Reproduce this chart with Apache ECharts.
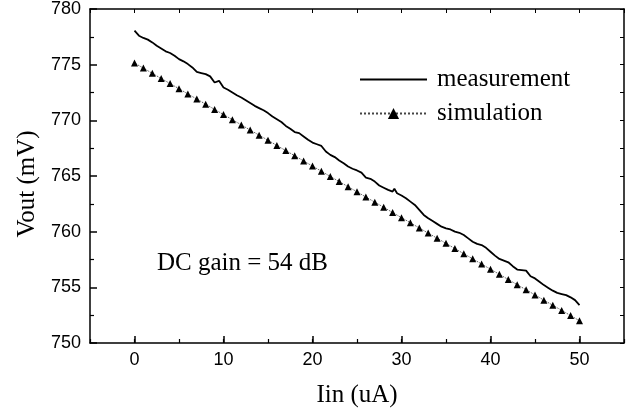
<!DOCTYPE html>
<html>
<head>
<meta charset="utf-8">
<script src="https://cdn.jsdelivr.net/npm/echarts@6/dist/echarts.min.js"></script>
<style>html,body{margin:0;padding:0;background:#fff}#c{width:634px;height:413px}</style>
</head>
<body>
<div id="c"></div>
<script>
// ---- data ----
var measX = [0,0.5,1,1.5,2,2.5,3,3.5,4,4.5,5,5.5,6,6.5,7,7.5,8,8.5,9,9.5,10,10.5,11,11.5,12,12.5,13,13.5,14,14.5,15,15.5,16,16.5,17,17.5,18,18.5,19,19.5,20,20.5,21,21.5,22,22.5,23,23.5,24,24.5,25,25.5,26,26.5,27,27.5,28,28.5,29,29.2,29.5,30,30.5,31,31.5,32,32.5,33,33.5,34,34.5,35,35.5,36,36.5,37,37.5,38,38.5,39,39.5,40,40.5,41,41.5,42,42.5,43,43.5,44,44.5,45,45.5,46,46.5,47,47.5,48,48.5,49,49.5,50];
var measY = [778.05,777.6,777.4,777.25,777.0,776.7,776.45,776.2,776.05,775.8,775.5,775.3,775.05,774.75,774.35,774.25,774.15,773.95,773.4,773.55,772.95,772.75,772.5,772.25,772.05,771.8,771.55,771.3,771.1,770.9,770.65,770.35,770.1,769.85,769.5,769.25,768.95,768.85,768.55,768.25,768.0,767.85,767.7,767.2,766.9,766.7,766.4,766.15,765.85,765.65,765.5,765.3,764.85,764.75,764.5,764.15,763.95,763.75,763.6,763.85,763.45,763.25,763.0,762.7,762.4,761.95,761.5,761.2,760.95,760.7,760.45,760.3,760.2,760.0,759.9,759.7,759.4,759.1,758.9,758.8,758.55,758.2,757.85,757.55,757.4,757.25,756.9,756.6,756.55,756.5,756.0,755.8,755.5,755.2,754.95,754.7,754.5,754.4,754.3,754.1,753.85,753.4];
var simX = [0,1,2,3,4,5,6,7,8,9,10,11,12,13,14,15,16,17,18,19,20,21,22,23,24,25,26,27,28,29,30,31,32,33,34,35,36,37,38,39,40,41,42,43,44,45,46,47,48,49,50];
var simY = [775.15,774.69,774.22,773.76,773.30,772.84,772.37,771.91,771.45,770.98,770.52,770.06,769.59,769.13,768.67,768.21,767.74,767.28,766.82,766.35,765.89,765.43,764.96,764.50,764.04,763.58,763.11,762.65,762.19,761.72,761.26,760.80,760.33,759.87,759.41,758.95,758.48,758.02,757.56,757.09,756.63,756.17,755.70,755.24,754.78,754.32,753.85,753.39,752.93,752.46,752.00];
var xTickLabels = [0,10,20,30,40,50];
var seriesNames = ['measurement','simulation'];
var xTitle = 'Iin (uA)';
var yTitle = 'Vout (mV)';
var note = 'DC gain = 54 dB';

function pairs(xs, ys){ var o=[]; for (var i=0;i<xs.length;i++) o.push([xs[i], ys[i]]); return o; }

var serif = '"Liberation Serif","Times New Roman",serif';
var sans = '"Liberation Sans",Arial,sans-serif';
var axLine = {show:true, onZero:false, lineStyle:{color:'#000', width:1.5}};

var chart = echarts.init(document.getElementById('c'), null, {renderer:'canvas'});
chart.setOption({
  animation:false,
  backgroundColor:'#fff',
  grid:{left:90, right:10, top:9, bottom:68, containLabel:false},
  legend:{
    orient:'vertical', left:354, top:62,
    itemWidth:67, itemHeight:14, itemGap:9,
    textStyle:{fontFamily:serif, fontSize:25, color:'#000', lineHeight:25, padding:[0,0,0,5]},
    data:[{name:seriesNames[0], itemStyle:{opacity:0}},{name:seriesNames[1]}]
  },
  xAxis:[
    {type:'value', position:'bottom', min:-5, max:55, interval:5,
     axisLine:axLine,
     axisTick:{show:true, inside:true, length:7, customValues:xTickLabels, lineStyle:{color:'#000', width:1.5}},
     axisLabel:{show:true, customValues:xTickLabels, fontFamily:sans, fontSize:18, color:'#000', margin:8},
     splitLine:{show:false},
     name:xTitle, nameLocation:'middle', nameGap:40,
     nameTextStyle:{fontFamily:serif, fontSize:25, color:'#000'}},
    {type:'value', position:'bottom', min:-5, max:55, interval:5,
     axisLine:{show:false, onZero:false},
     axisTick:{show:true, inside:true, length:4, lineStyle:{color:'#000', width:1.2}},
     axisLabel:{show:false}, splitLine:{show:false}},
    {type:'value', position:'top', min:-5, max:55, interval:5,
     axisLine:axLine,
     axisTick:{show:true, inside:true, length:4, lineStyle:{color:'#000', width:1}},
     axisLabel:{show:false}, splitLine:{show:false}}
  ],
  yAxis:[
    {type:'value', position:'left', min:750, max:780, interval:5,
     axisLine:axLine,
     axisTick:{show:true, inside:true, length:7, lineStyle:{color:'#000', width:1.5}},
     minorTick:{show:true, splitNumber:2, length:4, lineStyle:{color:'#000', width:1.2}},
     axisLabel:{fontFamily:sans, fontSize:18, color:'#000', margin:9},
     splitLine:{show:false},
     name:yTitle, nameLocation:'middle', nameGap:50, nameRotate:90,
     nameTextStyle:{fontFamily:serif, fontSize:25, color:'#000', padding:[0,16,0,0]}},
    {type:'value', position:'right', min:750, max:780, interval:2.5,
     axisLine:axLine,
     axisTick:{show:true, inside:true, length:4, lineStyle:{color:'#000', width:1}},
     axisLabel:{show:false}, splitLine:{show:false}}
  ],
  series:[
    {name:seriesNames[0], type:'line', xAxisIndex:0, yAxisIndex:0,
     data:pairs(measX, measY), symbol:'none',
     lineStyle:{color:'#000', width:1.8}, itemStyle:{color:'#000'}},
    {name:seriesNames[1], type:'line', xAxisIndex:0, yAxisIndex:0,
     data:pairs(simX, simY), symbol:'triangle', symbolSize:7, showSymbol:true,
     lineStyle:{color:'#444', width:1, type:'dotted'}, itemStyle:{color:'#000'}}
  ],
  graphic:[
    {type:'text', left:157, top:251,
     style:{text:note, font:'25px "Liberation Serif","Times New Roman",serif', fill:'#000'}}
  ]
});
</script>
</body>
</html>
